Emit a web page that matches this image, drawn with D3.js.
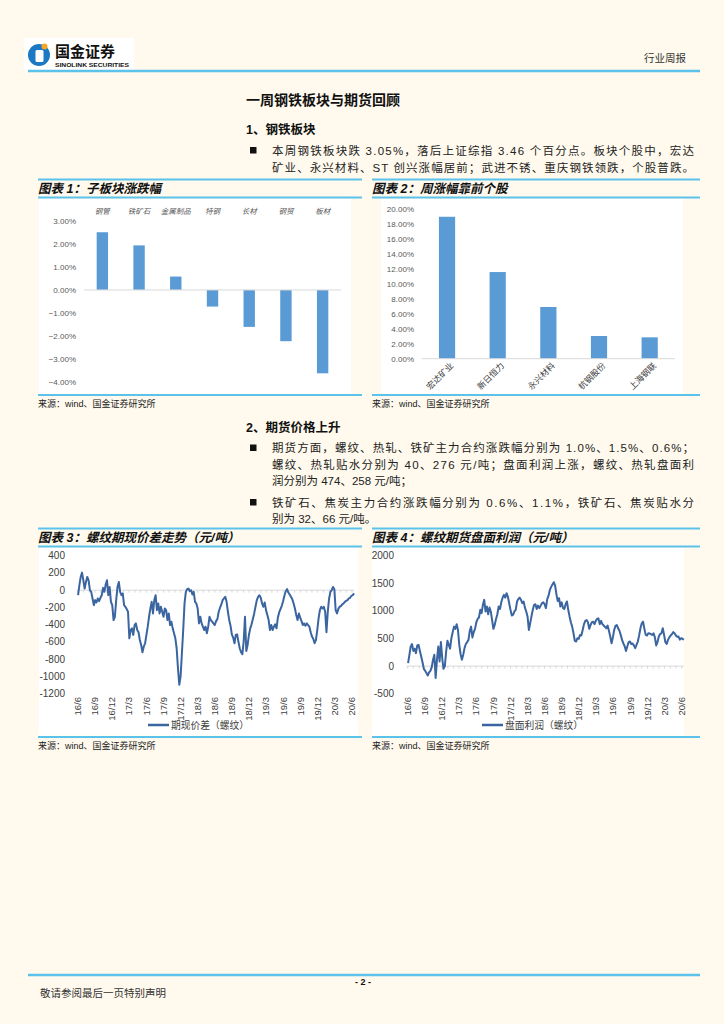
<!DOCTYPE html>
<html><head><meta charset="utf-8">
<script src="https://cdn.jsdelivr.net/npm/d3@7"></script>
<style>
html,body{margin:0;padding:0;background:#FFFAED;}
svg{display:block;}
text{font-family:"Liberation Sans","Noto Sans CJK SC",sans-serif;}
</style></head><body>
<svg id="page" width="724" height="1024"></svg>
<script>
// ---------------- DATA ----------------
const sectorCategories = ["钢管","铁矿石","金属制品","特钢","长材","钢贸","板材"];
const sectorChanges = [2.50, 1.93, 0.58, -0.72, -1.60, -2.22, -3.61];
const sectorTicks = [3, 2, 1, 0, -1, -2, -3, -4];

const stockNames = ["宏达矿业","新日恒力","永兴材料","杭钢股份","上海钢联"];
const stockChanges = [19.0, 11.6, 6.92, 3.04, 2.86];
const stockTicks = [0, 2, 4, 6, 8, 10, 12, 14, 16, 18, 20];

const quarterLabels = ["16/6","16/9","16/12","17/3","17/6","17/9","17/12","18/3","18/6","18/9","18/12","19/3","19/6","19/9","19/12","20/3","20/6"];
const basisTicks = [400, 200, 0, -200, -400, -600, -800, -1000, -1200];
const profitTicks = [2000, 1500, 1000, 500, 0, -500];

const seriesStart = "2016-06-03"; // weekly observations from this date
const basisRebar = [
 -58,58,154,204,115,19,96,154,115,0,-19,-96,-173,-115,-142,-96,-127,-88,-58,27,
 -19,65,115,-58,38,-135,-173,-346,-308,-115,38,96,-19,-58,-38,-173,-192,-219,-250,-558,
 -462,-442,-519,-404,-385,-462,-488,-577,-635,-719,-654,-615,-519,-423,-308,-212,-135,-269,-115,-58,
 -231,-154,-269,-192,-250,-308,-212,-231,-346,-269,-404,-365,-442,-500,-558,-673,-904,-1096,-1000,-731,
 -462,-154,-19,12,19,-12,0,-50,-19,-135,-154,-212,-385,-308,-385,-423,-462,-423,-500,-423,
 -308,-346,-365,-385,-404,-358,-335,-250,-204,-165,-115,-96,-77,-135,-250,-346,-412,-512,-550,-615,
 -519,-512,-596,-673,-719,-742,-596,-308,-704,-635,-519,-442,-396,-335,-269,-192,-115,-77,-58,-88,
 -154,-192,-142,-231,-288,-346,-462,-404,-462,-423,-396,-442,-319,-258,-219,-181,-127,-65,-12,12,
 -27,-50,-77,-104,-154,-212,-288,-346,-269,-319,-358,-404,-385,-412,-385,-404,-423,-488,-538,-565,
 -615,-577,-462,-327,-231,-192,-212,-192,-250,-488,-250,-96,-19,0,38,12,-231,-269,-219,-192,
 -185,-165,-154,-135,-123,-115,-96,-88,-65,-58,-38
];
const profitRebar = [
 55,205,355,400,275,315,235,375,385,275,175,70,-50,-85,-125,-170,-115,-85,-25,115,
 205,-215,115,355,85,435,145,-50,-5,265,460,385,315,505,615,715,675,760,655,385,
 215,115,205,325,400,435,475,640,715,520,615,675,795,855,880,1020,960,1110,1200,990,
 1080,940,1060,990,835,675,745,855,940,1080,1035,1155,1240,1290,1240,1320,1260,1140,1020,915,
 930,990,1020,1170,1215,1240,1200,1140,1170,1060,990,900,655,775,900,1020,1110,1120,1035,1095,
 1050,1095,1140,1155,1120,1050,1215,1275,1380,1435,1480,1520,1460,1300,1180,1230,1080,1155,1050,1035,
 1120,1170,1020,900,795,715,595,460,445,505,495,565,555,655,760,820,835,795,675,745,
 795,805,760,820,855,865,760,820,760,735,710,685,735,640,535,415,520,655,730,745,
 685,640,565,475,410,360,275,355,435,445,400,410,375,325,385,445,555,685,775,805,
 675,565,555,595,590,580,565,595,520,375,435,535,580,595,685,565,435,400,475,520,
 555,580,615,595,555,530,535,480,505,495,475
];

// ---------------- PAGE ----------------
const svg = d3.select("#page");
const BLUE = "#5BC2EC";
const BAR = "#5B9BD5";
const LINE = "#3A65A0";
svg.append("rect").attr("width",724).attr("height",1024).attr("fill","#FFFAED");

// Header
svg.append("rect").attr("x",24).attr("y",38).attr("width",110).attr("height",32).attr("fill","#ffffff");
svg.append("circle").attr("cx",39).attr("cy",55).attr("r",11).attr("fill","#1B78C2");
svg.append("rect").attr("x",35.5).attr("y",50).attr("width",8).attr("height",12).attr("rx",1.5).attr("fill","#ffffff");
svg.append("circle").attr("cx",44.5).attr("cy",46.5).attr("r",3).attr("fill","#F5A623");
svg.append("text").attr("x",55).attr("y",57).attr("font-size",15).attr("font-weight","bold").attr("fill","#111").text("国金证券");
svg.append("text").attr("x",55).attr("y",66.5).attr("font-size",6).attr("font-weight","bold").attr("fill","#111")
  .attr("textLength",74).attr("lengthAdjust","spacingAndGlyphs").text("SINOLINK SECURITIES");
svg.append("text").attr("x",686).attr("y",62).attr("text-anchor","end").attr("font-size",10.5).attr("fill","#333").text("行业周报");
svg.append("line").attr("x1",28).attr("x2",700).attr("y1",71).attr("y2",71).attr("stroke",BLUE).attr("stroke-width",2.5);

// Headings and body text
function txt(x,y,s,size,opts={}){
  const t = svg.append("text").attr("x",x).attr("y",y).attr("font-size",size).attr("fill",opts.fill||"#222").text(s);
  if(opts.bold) t.attr("font-weight","bold");
  if(opts.len) t.attr("textLength",opts.len).attr("lengthAdjust","spacing");
  if(opts.italic) t.attr("font-style","italic");
  if(opts.anchor) t.attr("text-anchor",opts.anchor);
  return t;
}
function bullet(y){ svg.append("rect").attr("x",250).attr("y",y).attr("width",6.5).attr("height",6.5).attr("fill","#111"); }

txt(246,105,"一周钢铁板块与期货回顾",14,{bold:true,fill:"#111"});
txt(246,134,"1、钢铁板块",12.5,{bold:true,fill:"#111"});
bullet(147);
txt(272,155,"本周钢铁板块跌 3.05%，落后上证综指 3.46 个百分点。板块个股中，宏达",11.5,{len:422});
txt(272,172,"矿业、永兴材料、ST 创兴涨幅居前；武进不锈、重庆钢铁领跌，个股普跌。",11.5,{len:422});

txt(246,432,"2、期货价格上升",12.5,{bold:true,fill:"#111"});
bullet(444.5);
txt(272,452,"期货方面，螺纹、热轧、铁矿主力合约涨跌幅分别为 1.0%、1.5%、0.6%；",11.5,{len:422});
txt(272,468.5,"螺纹、热轧贴水分别为 40、276 元/吨；盘面利润上涨，螺纹、热轧盘面利",11.5,{len:422});
txt(272,485,"润分别为 474、258 元/吨；",11.5);
bullet(499);
txt(272,506.5,"铁矿石、焦炭主力合约涨跌幅分别为 0.6%、1.1%，铁矿石、焦炭贴水分",11.5,{len:422});
txt(272,523,"别为 32、66 元/吨。",11.5);

// Chart frames
function frame(x1,x2,yTop,yBot,title,white){
  svg.append("line").attr("x1",x1).attr("x2",x2).attr("y1",yTop).attr("y2",yTop).attr("stroke",BLUE).attr("stroke-width",2);
  txt(x1,yTop+13,title,12.5,{bold:true,italic:true,fill:"#111"});
  svg.append("line").attr("x1",x1).attr("x2",x2).attr("y1",yTop+18).attr("y2",yTop+18).attr("stroke",BLUE).attr("stroke-width",2);
  svg.append("rect").attr("x",white[0]).attr("y",yTop+19.5).attr("width",white[1]-white[0]).attr("height",yBot-yTop-21).attr("fill","#ffffff");
  svg.append("line").attr("x1",x1).attr("x2",x2).attr("y1",yBot).attr("y2",yBot).attr("stroke",BLUE).attr("stroke-width",2);
  txt(x1,yBot+12,"来源：wind、国金证券研究所",9,{fill:"#222"});
}
frame(38,362,179.5,395,"图表 1：子板块涨跌幅",[39,351]);
frame(372,700,179.5,395,"图表 2：周涨幅靠前个股",[381,683]);
frame(38,362,528.5,737,"图表 3：螺纹期现价差走势（元/吨）",[39,358]);
frame(372,700,528.5,737,"图表 4：螺纹期货盘面利润（元/吨）",[372,684]);

// ---------------- CHART 1 ----------------
(function(){
  const g = svg.append("g");
  const x = d3.scaleBand().domain(sectorCategories).range([84,341]).padding(0);
  const y = d3.scaleLinear().domain([-4,3]).range([382.3,220.7]);
  const bw = x.bandwidth()*0.31;
  g.selectAll("rect.bar").data(sectorCategories).enter().append("rect")
    .attr("x",d=>x(d)+(x.bandwidth()-bw)/2)
    .attr("y",(d,i)=>y(Math.max(0,sectorChanges[i])))
    .attr("width",bw)
    .attr("height",(d,i)=>Math.abs(y(sectorChanges[i])-y(0)))
    .attr("fill",BAR);
  g.append("line").attr("x1",84).attr("x2",341).attr("y1",y(0)).attr("y2",y(0)).attr("stroke","#D9D9D9").attr("stroke-width",1);
  g.selectAll("text.yt").data(sectorTicks).enter().append("text")
    .attr("x",76).attr("y",d=>y(d)).attr("dy","0.35em").attr("text-anchor","end")
    .attr("font-size",8).attr("fill","#595959").text(d=>d3.format(".2f")(d)+"%");
  g.selectAll("text.xl").data(sectorCategories).enter().append("text")
    .attr("x",d=>x(d)+x.bandwidth()/2).attr("y",213.5).attr("text-anchor","middle")
    .attr("font-size",7.5).attr("font-style","italic").attr("fill","#595959").text(d=>d);
})();

// ---------------- CHART 2 ----------------
(function(){
  const g = svg.append("g");
  const x = d3.scaleBand().domain(stockNames).range([421.7,675]).padding(0);
  const y = d3.scaleLinear().domain([0,20]).range([358.7,209.3]);
  const bw = x.bandwidth()*0.32;
  g.selectAll("rect.bar").data(stockNames).enter().append("rect")
    .attr("x",d=>x(d)+(x.bandwidth()-bw)/2)
    .attr("y",(d,i)=>y(stockChanges[i]))
    .attr("width",bw)
    .attr("height",(d,i)=>y(0)-y(stockChanges[i]))
    .attr("fill",BAR);
  g.append("line").attr("x1",421.7).attr("x2",675).attr("y1",y(0)).attr("y2",y(0)).attr("stroke","#D9D9D9").attr("stroke-width",1);
  g.selectAll("text.yt").data(stockTicks).enter().append("text")
    .attr("x",414).attr("y",d=>y(d)).attr("dy","0.35em").attr("text-anchor","end")
    .attr("font-size",8).attr("fill","#595959").text(d=>d3.format(".2f")(d)+"%");
  g.selectAll("text.xl").data(stockNames).enter().append("text")
    .attr("transform",d=>`translate(${x(d)+x.bandwidth()/2+5},${364}) rotate(-45)`)
    .attr("text-anchor","end").attr("dy","0.35em")
    .attr("font-size",8.5).attr("fill","#404040").text(d=>d);
})();

// ---------------- LINE CHARTS ----------------
const start = d3.timeParse("%Y-%m-%d")(seriesStart);
function weekly(values){ return values.map((v,i)=>({date:d3.timeDay.offset(start,7*i), v:v})); }
function qDate(s){ const p = s.split("/"); return new Date(2000+ +p[0], +p[1]-1, 1); }

function lineChart(values, ticks, yDomain, x0, x1, labelX, legendX, legendText){
  const g = svg.append("g");
  const x = d3.scaleTime().domain([new Date(2016,5,1), new Date(2020,5,1)]).range([x0,x1]);
  const y = d3.scaleLinear().domain(yDomain).range([693.7,555.7]);
  const data = weekly(values);
  g.selectAll("text.yt").data(ticks).enter().append("text")
    .attr("x",labelX).attr("y",d=>y(d)).attr("dy","0.35em").attr("text-anchor","end")
    .attr("font-family","Liberation Serif").attr("font-size",10).attr("fill","#404040").text(d=>d);
  g.append("line").attr("x1",x0-1).attr("x2",x1+2).attr("y1",y(0)).attr("y2",y(0)).attr("stroke","#D9D9D9").attr("stroke-width",1);
  const months = d3.timeMonth.range(new Date(2016,5,1), new Date(2020,5,2));
  g.selectAll("line.mt").data(months).enter().append("line")
    .attr("x1",d=>x(d)).attr("x2",d=>x(d)).attr("y1",y(0)).attr("y2",y(0)+2.5)
    .attr("stroke","#CFCFCF").attr("stroke-width",0.8);
  g.append("path").datum(data)
    .attr("d",d3.line().x(d=>x(d.date)).y(d=>y(d.v)))
    .attr("fill","none").attr("stroke",LINE).attr("stroke-width",2).attr("stroke-linejoin","round");
  g.selectAll("text.xl").data(quarterLabels).enter().append("text")
    .attr("transform",d=>`translate(${x(qDate(d))},697) rotate(-90)`)
    .attr("text-anchor","end").attr("dy","0.35em")
    .attr("font-family","Liberation Serif").attr("font-size",9.5).attr("fill","#404040").text(d=>d);
  g.append("line").attr("x1",legendX).attr("x2",legendX+21).attr("y1",725).attr("y2",725).attr("stroke",LINE).attr("stroke-width",2.5);
  g.append("text").attr("x",legendX+23).attr("y",728.5).attr("font-size",9.75).attr("fill","#404040").text(legendText);
}
lineChart(basisRebar, basisTicks, [-1200,400], 77.7, 352, 65, 148, "期现价差（螺纹）");
lineChart(profitRebar, profitTicks, [-500,2000], 407.7, 681.7, 394, 482, "盘面利润（螺纹）");

// Footer
svg.append("line").attr("x1",28).attr("x2",700).attr("y1",975).attr("y2",975).attr("stroke",BLUE).attr("stroke-width",2.5);
txt(363,985,"- 2 -",9,{bold:true,anchor:"middle",fill:"#111"});
txt(40,997,"敬请参阅最后一页特别声明",10.5,{fill:"#333"});
</script>
</body></html>
